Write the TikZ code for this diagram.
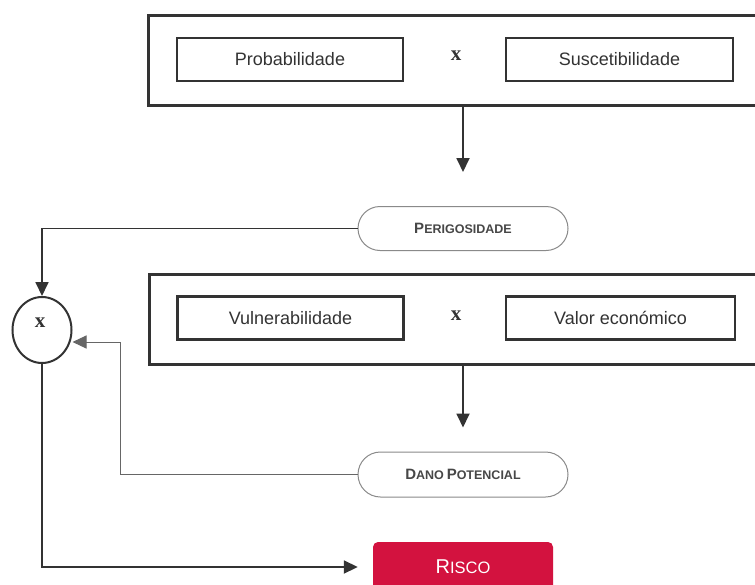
\documentclass[tikz,border=0pt]{standalone}
\usepackage{fontspec}
\setmainfont{Liberation Sans}
\newfontfamily\serifx{Liberation Serif}
\usetikzlibrary{arrows.meta,shapes.misc,shapes.geometric}
\definecolor{ink}{HTML}{333333}
\definecolor{risk}{HTML}{D3123F}
\definecolor{pill}{HTML}{8A8A8A}
\newcommand\fsc[2]{{\bfseries\fontsize{15}{15}\selectfont #1\fontsize{12.5}{12.5}\selectfont #2}}
\tikzset{
 outerbox/.style={draw=ink, line width=2.6pt, anchor=north west, minimum width=625pt, minimum height=90pt, inner sep=0pt},
 innerbox/.style={draw=ink, line width=2.2pt, minimum width=226pt, minimum height=43pt, inner sep=0pt, font=\fontsize{18}{18}\selectfont, text=ink},
 pillbox/.style={draw=pill, line width=1pt, rounded rectangle, minimum width=210pt, minimum height=44pt, inner sep=0pt, text=ink!90},
 mulsign/.style={font=\serifx\bfseries\fontsize{21}{21}\selectfont, text=ink, inner sep=0pt},
 arr/.style={draw=ink, line width=1.8pt, -{Triangle[width=13pt,length=14pt]}},
 thinarr/.style={draw=ink!75, line width=1pt, -{Triangle[width=13pt,length=14pt]}},
 riskbox/.style={fill=risk, rounded corners=5pt, minimum width=180pt, minimum height=50pt, text=white, inner sep=0pt}
}
\begin{document}
\begin{tikzpicture}[x=1pt,y=-1pt]
\useasboundingbox (0,0) rectangle (755,584);
\clip (0,0) rectangle (755,584);
\fill[white] (0,0) rectangle (755,584);
% top group
\node[outerbox] (outer1) at (147,14) {};
\node[innerbox] (prob) at (290,59.5) {Probabilidade};
\node[mulsign] (x1) at (456,56) {x};
\node[innerbox, minimum width=227pt] (susc) at (619.5,59.5) {Suscetibilidade};
\node[pillbox] (peri) at (463,228.5) {\fsc{P}{ERIGOSIDADE}};
% second group
\node[outerbox] (outer2) at (148,273) {};
\node[innerbox] (vuln) at (290.5,318) {Vulnerabilidade};
\node[mulsign] (x2) at (456,316) {x};
\node[innerbox, minimum width=229pt] (valor) at (620.5,318) {Valor económico};
\node[pillbox, minimum height=45pt] (dano) at (463,474.5) {\fsc{D}{ANO} \fsc{P}{OTENCIAL}};
% multiplier circle
\node[draw=ink, line width=2pt, ellipse, minimum width=59pt, minimum height=66pt, inner sep=0pt] (circ) at (42,330) {};
\node[mulsign] (cx) at (40,323) {x};
% result
\node[riskbox] (risco) at (463,567) {\fontsize{20}{20}\selectfont R\fontsize{16.5}{16.5}\selectfont ISCO};
% connectors
\draw[arr, shorten >=34pt] (peri.north |- outer1.south) -- (peri.north);
\draw[arr, shorten >=24pt] (dano.north |- outer2.south) -- (dano.north);
\draw[arr] (peri.west) -| (circ.north);
\coordinate (bend) at (120,342);
\draw[thinarr] (dano.west) -| (bend) -- (circ.east |- bend);
\draw[arr, shorten >=15pt] (circ.south) |- (risco.west);
\end{tikzpicture}
\end{document}
